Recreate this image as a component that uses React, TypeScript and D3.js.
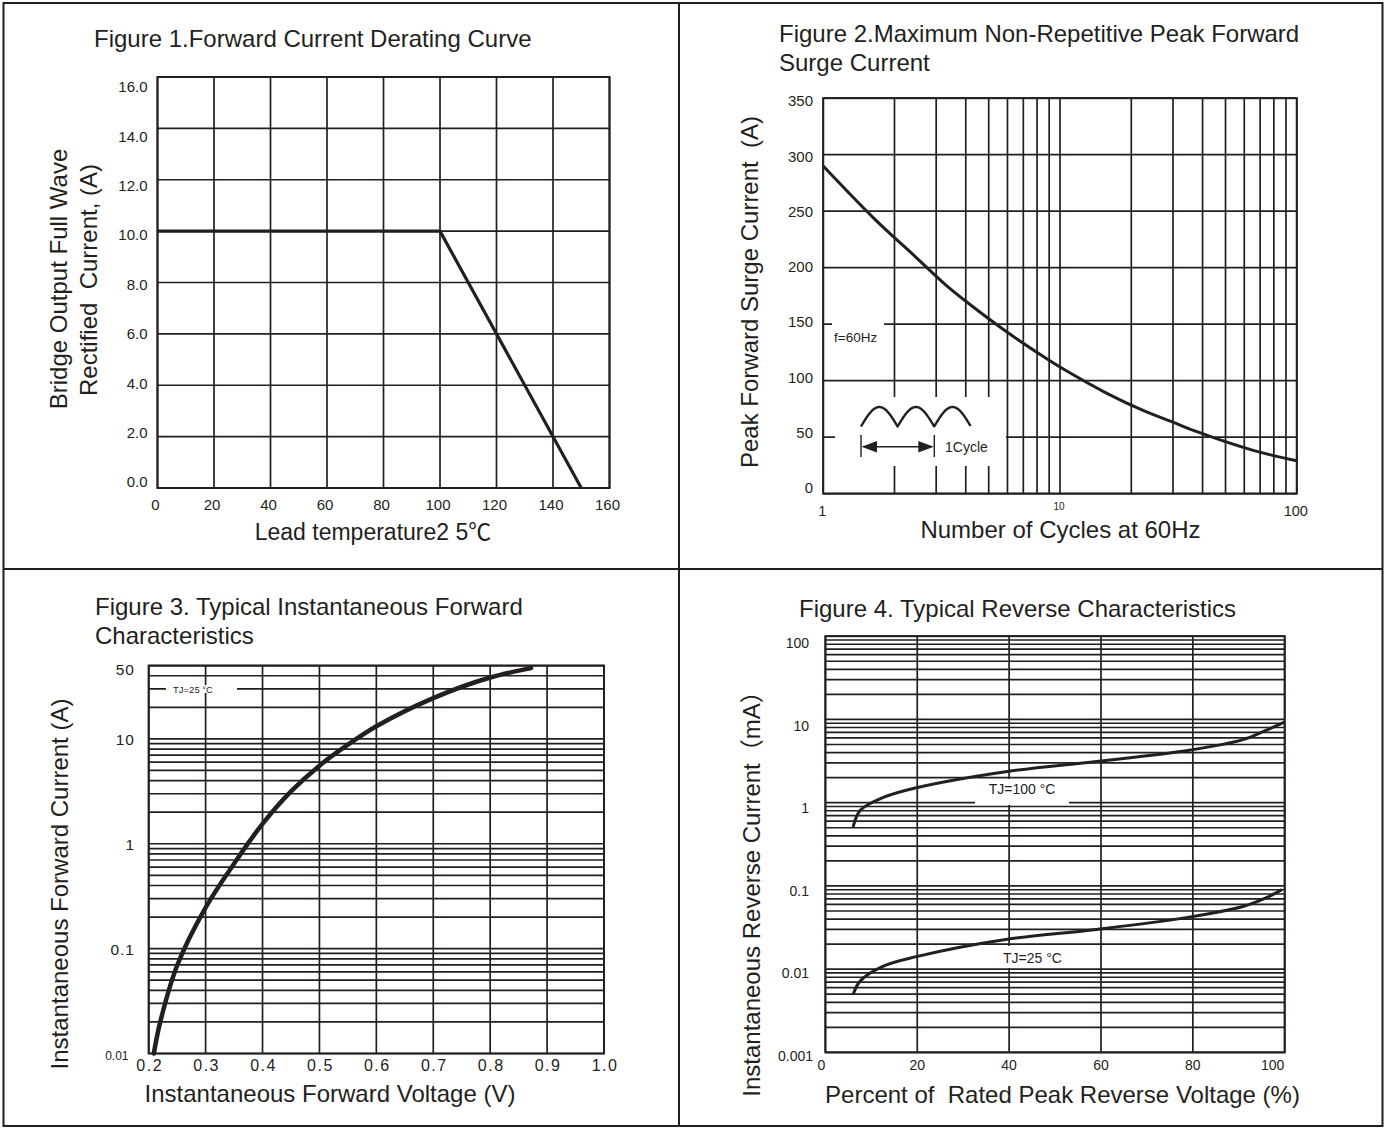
import React from 'react';
import * as d3 from 'd3';

const FONT = '"Liberation Sans", Arial, Helvetica, "Noto Sans CJK SC", sans-serif';
const INK = '#231f20';
const BIG = 24;

// ---------- Figure 1: Forward Current Derating Curve ----------
const fig1Temp = [0, 100, 150];
const fig1Current = [10, 10, 0];
const fig1XTicks = [0, 20, 40, 60, 80, 100, 120, 140, 160];
const fig1YTicks = [0, 2, 4, 6, 8, 10, 12, 14, 16];

// ---------- Figure 2: Max Non-Repetitive Peak Forward Surge Current ----------
const fig2Cycles = [1, 1.65, 2.44, 3.28, 4.13, 5.97, 8.7, 10, 15.7, 22.8, 30.2, 37.6, 66, 100];
const fig2Surge = [290, 243, 210, 185, 168, 143, 120, 112, 89, 73, 63, 55, 38, 29];
const fig2XTickLabels = [1, 10, 100];
const fig2YTicks = [0, 50, 100, 150, 200, 250, 300, 350];

// ---------- Figure 3: Typical Instantaneous Forward Characteristics ----------
const fig3Voltage = [0.209, 0.22, 0.25, 0.3, 0.35, 0.4, 0.45, 0.5, 0.55, 0.6, 0.7, 0.8, 0.872];
const fig3Current = [0.01, 0.0197, 0.069, 0.246, 0.646, 1.55, 3.16, 5.56, 8.8, 13.2, 24.5, 38.5, 47.3];
const fig3XTicks = [0.2, 0.3, 0.4, 0.5, 0.6, 0.7, 0.8, 0.9, 1.0];
const fig3YTickLabels = [0.01, 0.1, 1, 10, 50];

// ---------- Figure 4: Typical Reverse Characteristics ----------
const fig4PercentHot = [6.1, 7.6, 12.5, 19.8, 39.6, 59, 78.9, 90.9, 95.8, 99.7];
const fig4CurrentHot = [0.525, 0.81, 1.15, 1.51, 2.37, 3.13, 4.24, 5.72, 7.36, 9.17];
const fig4PercentCold = [6.1, 7.6, 12.5, 19.8, 39.6, 59, 78.9, 90.9, 95.8, 99.2];
const fig4CurrentCold = [0.00508, 0.00723, 0.0108, 0.01416, 0.0229, 0.03, 0.0419, 0.0566, 0.0712, 0.0889];
const fig4XTicks = [0, 20, 40, 60, 80, 100];
const fig4YTickLabels = [0.001, 0.01, 0.1, 1, 10, 100];

function logGrid(min: number, max: number): number[] {
  const out: number[] = [];
  for (let e = Math.floor(Math.log10(min)); e <= Math.ceil(Math.log10(max)); e++) {
    for (let m = 1; m <= 9; m++) {
      const v = m * Math.pow(10, e);
      if (v >= min * 0.9999 && v <= max * 1.0001) out.push(v);
    }
  }
  return out;
}

const zip = (a: number[], b: number[]) => a.map((v, i) => [v, b[i]] as [number, number]);

function Grid({ x, y, xs, ys, x0, x1, y0, y1 }: any) {
  return (
    <g stroke={INK} strokeWidth={1.7} fill="none">
      {xs.map((v: number, i: number) => (
        <line key={'x' + i} x1={x(v)} x2={x(v)} y1={y0} y2={y1} />
      ))}
      {ys.map((v: number, i: number) => (
        <line key={'y' + i} x1={x0} x2={x1} y1={y(v)} y2={y(v)} />
      ))}
    </g>
  );
}

function Frame({ x0, x1, y0, y1 }: any) {
  return <rect x={x0} y={y0} width={x1 - x0} height={y1 - y0} fill="none" stroke={INK} strokeWidth={2} />;
}

function RotLabel({ x, y, text, size = BIG }: any) {
  return (
    <text
      transform={`translate(${x},${y}) rotate(-90)`}
      textAnchor="middle"
      dy="0.35em"
      fontSize={size}
      style={{ whiteSpace: 'pre' }}
    >
      {text}
    </text>
  );
}

function Figure1() {
  const x = d3.scaleLinear().domain([0, 160]).range([157.5, 609.5]);
  const y = d3.scaleLinear().domain([0, 16]).range([488, 77]);
  const yLab = d3.scaleLinear().domain([0, 16]).range([482, 87]);
  const line = d3.line<[number, number]>().x((d) => x(d[0])).y((d) => y(d[1]));
  return (
    <g>
      <text x={94} y={47} fontSize={BIG}>Figure 1.Forward Current Derating Curve</text>
      <Grid x={x} y={y} xs={fig1XTicks} ys={fig1YTicks} x0={x(0)} x1={x(160)} y0={y(16)} y1={y(0)} />
      <Frame x0={x(0)} x1={x(160)} y0={y(16)} y1={y(0)} />
      <path d={line(zip(fig1Temp, fig1Current)) || ''} fill="none" stroke={INK} strokeWidth={3.2} />
      {fig1YTicks.map((v) => (
        <text key={v} x={147.5} y={yLab(v)} dy="0.35em" textAnchor="end" fontSize={15}>
          {d3.format('.1f')(v)}
        </text>
      ))}
      {fig1XTicks.map((v) => (
        <text key={v} x={x(v) - 2} y={505} dy="0.35em" textAnchor="middle" fontSize={15}>
          {v}
        </text>
      ))}
      <RotLabel x={58.5} y={279} text="Bridge Output Full Wave" />
      <RotLabel x={89} y={280} text="Rectified  Current, (A)" />
      <text x={373} y={540} textAnchor="middle" fontSize={23}>Lead temperature2 5℃</text>
    </g>
  );
}

function Figure2() {
  const x = d3.scaleLog().domain([1, 100]).range([823.2, 1296.8]);
  const y = d3.scaleLinear().domain([0, 350]).range([493.6, 98.2]);
  const yLab = d3.scaleLinear().domain([0, 350]).range([488, 101]);
  const line = d3
    .line<[number, number]>()
    .x((d) => x(d[0]))
    .y((d) => y(d[1]))
    .curve(d3.curveCatmullRom.alpha(0.5));
  const xs = logGrid(1, 100);
  // waveform pictogram (three half-sine arches)
  const archW = 36.6;
  const archH = 19.5;
  const wavePts = d3.range(0, 3 * archW + 0.01, 0.5).map(
    (t) => [861 + t, 426.5 - archH * Math.abs(Math.sin((Math.PI * t) / archW))] as [number, number]
  );
  const wave = d3.line<[number, number]>()(wavePts) || '';
  return (
    <g>
      <text x={779} y={42} fontSize={BIG}>Figure 2.Maximum Non-Repetitive Peak Forward</text>
      <text x={779} y={71} fontSize={BIG}>Surge Current</text>
      <Grid x={x} y={y} xs={xs} ys={fig2YTicks} x0={x(1)} x1={x(100)} y0={y(350)} y1={y(0)} />
      {/* white cut-outs for annotations */}
      <rect x={832} y={323} width={52} height={31} fill="#fff" />
      <rect x={835} y={397} width={171} height={69} fill="#fff" />
      <Frame x0={x(1)} x1={x(100)} y0={y(350)} y1={y(0)} />
      <path d={line(zip(fig2Cycles, fig2Surge)) || ''} fill="none" stroke={INK} strokeWidth={3} />
      <text x={834} y={342} fontSize={13.5}>f=60Hz</text>
      <path d={wave} fill="none" stroke={INK} strokeWidth={2.4} />
      <g stroke={INK} strokeWidth={1.4}>
        <line x1={861} x2={861} y1={435} y2={457} />
        <line x1={934.3} x2={934.3} y1={435} y2={457} />
        <line x1={870} x2={925} y1={446.7} y2={446.7} />
      </g>
      <path d="M861.5,446.7 L877,441 L877,452.4 Z" fill={INK} />
      <path d="M933.8,446.7 L918.3,441 L918.3,452.4 Z" fill={INK} />
      <text x={945} y={452} fontSize={14}>1Cycle</text>
      {fig2YTicks.map((v) => (
        <text key={v} x={813} y={yLab(v)} dy="0.35em" textAnchor="end" fontSize={15}>
          {v}
        </text>
      ))}
      {fig2XTickLabels.map((v) => (
        <text
          key={v}
          x={x(v) - 1}
          y={v === 10 ? 506 : 511}
          dy="0.35em"
          textAnchor="middle"
          fontSize={v === 10 ? 10 : 14.5}
        >
          {v}
        </text>
      ))}
      <RotLabel x={750} y={292} text="Peak Forward Surge Current  (A)" />
      <text x={1060.5} y={538} textAnchor="middle" fontSize={BIG}>Number of Cycles at 60Hz</text>
    </g>
  );
}

function Figure3() {
  const x = d3.scaleLinear().domain([0.2, 1.0]).range([148.7, 604]);
  const y = d3.scaleLog().domain([0.01, 50]).range([1053.5, 665.6]);
  const line = d3
    .line<[number, number]>()
    .x((d) => x(d[0]))
    .y((d) => y(d[1]))
    .curve(d3.curveCatmullRom.alpha(0.5));
  const ys = logGrid(0.01, 50);
  return (
    <g>
      <text x={95} y={615} fontSize={BIG}>Figure 3. Typical Instantaneous Forward</text>
      <text x={95} y={644} fontSize={BIG}>Characteristics</text>
      <Grid x={x} y={y} xs={fig3XTicks} ys={ys} x0={x(0.2)} x1={x(1.0)} y0={y(50)} y1={y(0.01)} />
      <rect x={166} y={685} width={71} height={8} fill="#fff" />
      <Frame x0={x(0.2)} x1={x(1.0)} y0={y(50)} y1={y(0.01)} />
      <text x={173} y={693} fontSize={9.5}>TJ=25 °C</text>
      <path
        d={line(zip(fig3Voltage, fig3Current)) || ''}
        fill="none"
        stroke={INK}
        strokeWidth={4.5}
        strokeLinecap="round"
      />
      {fig3YTickLabels.map((v) => (
        <text
          key={v}
          x={v === 0.01 ? 128.5 : 135}
          y={y(v) + (v === 0.01 ? 2 : v === 50 ? 4 : 1)}
          dy="0.35em"
          textAnchor="end"
          fontSize={v === 0.01 ? 12 : 15.5}
          letterSpacing={v === 0.01 ? 0 : 1}
        >
          {String(v)}
        </text>
      ))}
      {fig3XTicks.map((v) => (
        <text
          key={v}
          x={x(v) + 1}
          y={1065.5}
          dy="0.35em"
          textAnchor="middle"
          fontSize={16}
          letterSpacing={1.5}
        >
          {d3.format('.1f')(v)}
        </text>
      ))}
      <RotLabel x={59.5} y={884} text="Instantaneous Forward Current (A)" />
      <text x={330} y={1102} textAnchor="middle" fontSize={BIG}>Instantaneous Forward Voltage (V)</text>
    </g>
  );
}

function Figure4() {
  const x = d3.scaleLinear().domain([0, 100]).range([825.4, 1284.7]);
  const y = d3.scaleLog().domain([0.001, 100]).range([1052.4, 636.2]);
  const yLab = d3.scaleLog().domain([0.001, 100]).range([1056, 643]);
  const line = d3
    .line<[number, number]>()
    .x((d) => x(d[0]))
    .y((d) => y(d[1]))
    .curve(d3.curveCatmullRom.alpha(0.5));
  const ys = logGrid(0.001, 100);
  return (
    <g>
      <text x={799} y={617} fontSize={BIG}>Figure 4. Typical Reverse Characteristics</text>
      <Grid x={x} y={y} xs={fig4XTicks} ys={ys} x0={x(0)} x1={x(100)} y0={y(100)} y1={y(0.001)} />
      <rect x={975} y={779} width={94} height={26} fill="#fff" />
      <rect x={986} y={946} width={95} height={22} fill="#fff" />
      <Frame x0={x(0)} x1={x(100)} y0={y(100)} y1={y(0.001)} />
      <path
        d={line(zip(fig4PercentHot, fig4CurrentHot)) || ''}
        fill="none"
        stroke={INK}
        strokeWidth={3}
        strokeLinecap="round"
      />
      <path
        d={line(zip(fig4PercentCold, fig4CurrentCold)) || ''}
        fill="none"
        stroke={INK}
        strokeWidth={3}
        strokeLinecap="round"
      />
      <text x={1022} y={789.5} dy="0.35em" textAnchor="middle" fontSize={14}>TJ=100 °C</text>
      <text x={1032.5} y={958.5} dy="0.35em" textAnchor="middle" fontSize={14}>TJ=25 °C</text>
      {fig4YTickLabels.map((v) => (
        <text key={v} x={v === 0.001 ? 813 : 809} y={yLab(v)} dy="0.35em" textAnchor="end" fontSize={14}>
          {String(v)}
        </text>
      ))}
      {fig4XTicks.map((v) => (
        <text key={v} x={x(v) - (v === 0 ? 4 : v === 100 ? 12 : 0)} y={1065} dy="0.35em" textAnchor="middle" fontSize={14}>
          {v}
        </text>
      ))}
      <RotLabel x={752} y={888} text="Instantaneous Reverse Current（mA）" />
      <text x={1062.5} y={1103} textAnchor="middle" fontSize={BIG} style={{ whiteSpace: 'pre' }}>
        {'Percent of  Rated Peak Reverse Voltage (%)'}
      </text>
    </g>
  );
}

export default function App() {
  return (
    <svg
      width={1386}
      height={1129}
      viewBox="0 0 1386 1129"
      style={{ position: 'absolute', left: 0, top: 0, background: '#fff' }}
      fontFamily={FONT}
      fill={INK}
    >
      <rect x={0} y={0} width={1386} height={1129} fill="#fff" />
      <g stroke={INK} strokeWidth={2} fill="none">
        <rect x={3.5} y={3} width={1379} height={1123} />
        <line x1={679} x2={679} y1={3} y2={1126} />
        <line x1={3.5} x2={1382.5} y1={569} y2={569} />
      </g>
      <Figure1 />
      <Figure2 />
      <Figure3 />
      <Figure4 />
    </svg>
  );
}
